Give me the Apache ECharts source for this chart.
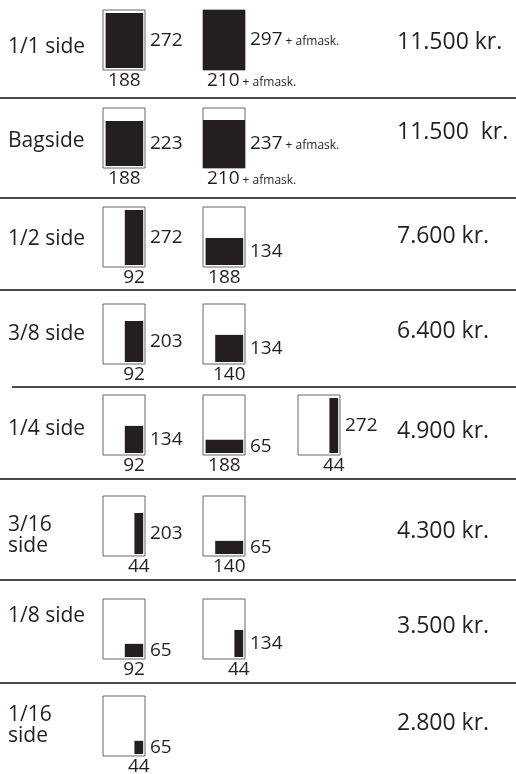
<!DOCTYPE html>
<html lang="da">
<head>
    <meta charset="UTF-8">
    <title>Annoncepriser</title>
    <script src="https://cdn.jsdelivr.net/npm/echarts@6/dist/echarts.min.js"></script>
    <style>
        body { margin: 0; padding: 0; background: #fff; }
        #chart { width: 516px; height: 774px; }
    </style>
</head>
<body>
    <div id="chart"></div>
    <script>
        // sidestørrelse i mm (rammen)
        const pageW = 210;
        const pageH = 297;

        // rækker
        const rowLabels = ['1/1 side', 'Bagside', '1/2 side', '3/8 side', '1/4 side', '3/16\nside', '1/8 side', '1/16\nside'];
        const prices = ['11.500 kr.', '11.500  kr.', '7.600 kr.', '6.400 kr.', '4.900 kr.', '4.300 kr.', '3.500 kr.', '2.800 kr.'];

        // annoncer pr. række: bredde, højde (mm), afmask. (til kant)
        const adWidths = [[188, 210], [188, 210], [92, 188], [92, 140], [92, 188, 44], [44, 140], [92, 44], [44]];
        const adHeights = [[272, 297], [223, 237], [272, 134], [203, 134], [134, 65, 272], [203, 65], [65, 134], [65]];
        const adBleed = [[0, 1], [0, 1], [0, 0], [0, 0], [0, 0, 0], [0, 0], [0, 0], [0]];

        // layout
        const frameTops = [10, 108, 207, 304, 395, 496, 599, 696];
        const frameLefts = [103, 203, 298];
        const frameW = 42, frameH = 60;
        const labelYs = [49, 143, 241, 336, 431, 537, 618, 727];
        const priceYs = [45, 135, 239, 334, 434, 534, 629, 726];
        const sepYs = [98, 198, 290, 387, 479, 580, 683];
        const sepX0 = [0, 0, 0, 12, 0, 0, 0];

        const ink = '#231f20';
        const font = '"Open Sans", "Noto Sans", sans-serif';
        const marginX = 9, marginY = 10;

        const chart = echarts.init(document.getElementById('chart'));

        const grids = [], xAxes = [], yAxes = [], series = [];

        const rich = {
            n: { fontSize: 19, fontFamily: font, fill: ink },
            s: { fontSize: 12, fontFamily: font, fill: ink, padding: [4, 0, 0, 3] }
        };

        function renderAd(params, api) {
            const w = api.value(0), h = api.value(1), bleed = api.value(2);
            const mx = bleed ? 0 : marginX, my = bleed ? 0 : marginY;
            const tl = api.coord([pageW - mx - w, my + h]);
            const br = api.coord([pageW - mx, my]);
            const frameBR = api.coord([pageW, 0]);
            const frameTL = api.coord([0, pageH]);
            const cy = (tl[1] + br[1]) / 2;
            const cx = (tl[0] + br[0]) / 2;
            const children = [{
                type: 'rect',
                shape: { x: tl[0], y: tl[1], width: br[0] - tl[0], height: br[1] - tl[1] },
                style: { fill: ink }
            }];
            // højde til højre for rammen
            children.push({
                type: 'text',
                style: {
                    x: frameBR[0] + 5, y: cy,
                    text: bleed ? '{n|' + h + '}{s|+ afmask.}' : String(h),
                    align: 'left', verticalAlign: 'middle',
                    fill: ink, font: '19px ' + font, rich: rich
                }
            });
            // bredde under rammen
            children.push({
                type: 'text',
                style: bleed ? {
                    x: frameTL[0] + 4, y: frameBR[1] + 11,
                    text: '{n|' + w + '}{s|+ afmask.}',
                    align: 'left', verticalAlign: 'middle',
                    fill: ink, font: '19px ' + font, rich: rich
                } : {
                    x: cx, y: frameBR[1] + 11,
                    text: String(w),
                    align: 'center', verticalAlign: 'middle',
                    fill: ink, font: '19px ' + font
                }
            });
            return { type: 'group', children: children };
        }

        adWidths.forEach((row, r) => {
            row.forEach((w, c) => {
                const g = grids.length;
                grids.push({
                    show: true,
                    left: frameLefts[c], top: frameTops[r], width: frameW, height: frameH,
                    borderColor: '#666', borderWidth: 1, backgroundColor: '#fff'
                });
                xAxes.push({ gridIndex: g, type: 'value', min: 0, max: pageW, show: false });
                yAxes.push({ gridIndex: g, type: 'value', min: 0, max: pageH, show: false });
                series.push({
                    type: 'custom',
                    xAxisIndex: g, yAxisIndex: g,
                    renderItem: renderAd,
                    data: [[w, adHeights[r][c], adBleed[r][c]]]
                });
            });
        });

        const graphic = [];
        rowLabels.forEach((lab, r) => {
            graphic.push({
                type: 'text', left: 8, top: labelYs[r] - (lab.indexOf('\n') >= 0 ? 22 : 12),
                style: { text: lab, font: '21px ' + font, fill: ink, lineHeight: 21 }
            });
            graphic.push({
                type: 'text', left: 397, top: priceYs[r] - 14,
                style: { text: prices[r], font: '23px ' + font, fill: ink }
            });
        });
        sepYs.forEach((y, i) => {
            graphic.push({
                type: 'line',
                shape: { x1: sepX0[i], y1: y, x2: 516, y2: y },
                style: { stroke: '#4a4a4a', lineWidth: 2 }
            });
        });

        chart.setOption({
            animation: false,
            grid: grids,
            xAxis: xAxes,
            yAxis: yAxes,
            series: series,
            graphic: graphic
        });
    </script>
</body>
</html>
